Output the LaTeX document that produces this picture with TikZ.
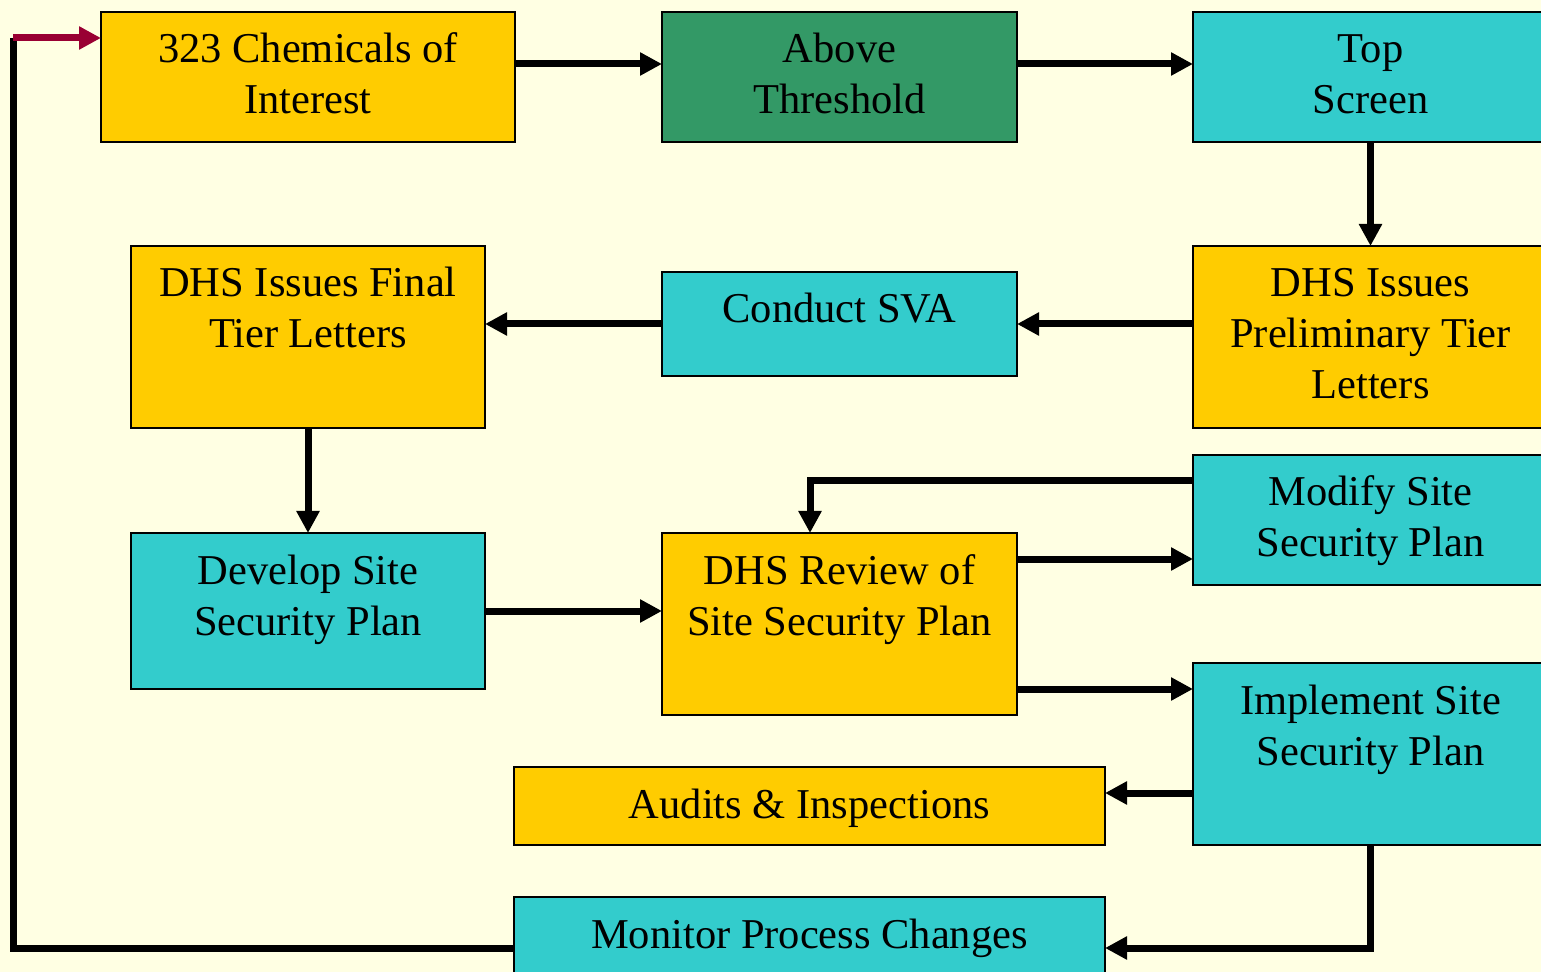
\documentclass[tikz,border=0pt]{standalone}
\usepackage{fontspec}
\setmainfont{Liberation Serif}
\usepackage{tikz}
\usetikzlibrary{arrows.meta}
\definecolor{bgyellow}{RGB}{255,255,227}
\definecolor{boxyellow}{RGB}{255,204,0}
\definecolor{boxteal}{RGB}{51,204,204}
\definecolor{boxgreen}{RGB}{51,153,102}
\definecolor{loopred}{RGB}{153,0,51}
\begin{document}
\begin{tikzpicture}[x=0.5pt,y=-0.5pt,>={Triangle[length=11pt,width=11pt]},line width=3.5pt,line join=miter]
\tikzstyle{box}=[draw=black,line width=1pt,anchor=north,inner sep=0pt,outer sep=0pt,align=center,text height=51pt,text depth=14pt,minimum width=177.5pt,font=\fontsize{21.25pt}{25.5pt}\selectfont]
\tikzstyle{yel}=[box,fill=boxyellow]
\tikzstyle{teal}=[box,fill=boxteal]
\tikzstyle{grn}=[box,fill=boxgreen]
\useasboundingbox (0,0) rectangle (1541,972);
\fill[bgyellow] (0,0) rectangle (1541,972);
% top row
\node[yel,minimum width=207pt] (CI) at (308,12) {323 Chemicals of\\Interest};
\node[grn] (AT) at (839.5,12) {Above\\Threshold};
\node[teal] (TS) at (1370.5,12) {Top\\Screen};
% second row
\node[yel,text height=76.5pt,text depth=14.5pt] (PL) at (1370.5,246) {DHS Issues\\Preliminary Tier\\Letters};
\node[teal,text height=25.5pt,text depth=26.5pt] (SVA) at (839.5,272) {Conduct SVA};
\node[yel,text depth=40pt,minimum width=177pt] (FL) at (308,246) {DHS Issues Final\\Tier Letters};
% site security plan
\node[teal,text depth=27pt,minimum width=177pt] (DP) at (308,533) {Develop Site\\Security Plan};
\node[yel,text depth=40pt] (RV) at (839.5,533) {DHS Review of\\Site Security Plan};
\node[teal] (MP) at (1370.5,455) {Modify Site\\Security Plan};
\node[teal,text depth=40pt] (IP) at (1370.5,663) {Implement Site\\Security Plan};
% bottom
\node[yel,text height=25.5pt,text depth=13.5pt,minimum width=295.5pt] (AI) at (809.5,767) {Audits \& Inspections};
\node[teal,text height=25.5pt,text depth=26.5pt,minimum width=295.5pt] (MC) at (809.5,897) {Monitor Process Changes};
\coordinate (corner) at (13,38);

\draw[->] ([yshift=-26pt]CI.north east) -- ([yshift=-26pt]AT.north west);
\draw[->] ([yshift=-26pt]AT.north east) -- ([yshift=-26pt]TS.north west);
\draw[->] (TS.south) -- (PL.north);
\draw[->] (SVA.east -| PL.west) -- (SVA.east);
\draw[->] (SVA.west) -- (SVA.west -| FL.east);
\draw[->] (FL.south) -- (DP.north);
\draw[->] (DP.east) -- (DP.east -| RV.west);
\draw[->] ([yshift=-13pt]RV.north east) coordinate (r1) -- (r1 -| MP.west);
\draw[->] ([yshift=13pt]RV.south east) coordinate (r2) -- (r2 -| IP.west);
\draw[->] ([yshift=-13pt]MP.north west) -| ([xshift=-14.75pt]RV.north);
\draw[<-] ([yshift=-13pt]AI.north east) coordinate (a1) -- (a1 -| IP.west);
\draw[<-] ([yshift=-25.5pt]MC.north east) -| (IP.south);
\draw ([yshift=-25.5pt]MC.north west) -| (corner);
\draw[->,loopred] (corner) -- (corner -| CI.west);
\end{tikzpicture}
\end{document}
